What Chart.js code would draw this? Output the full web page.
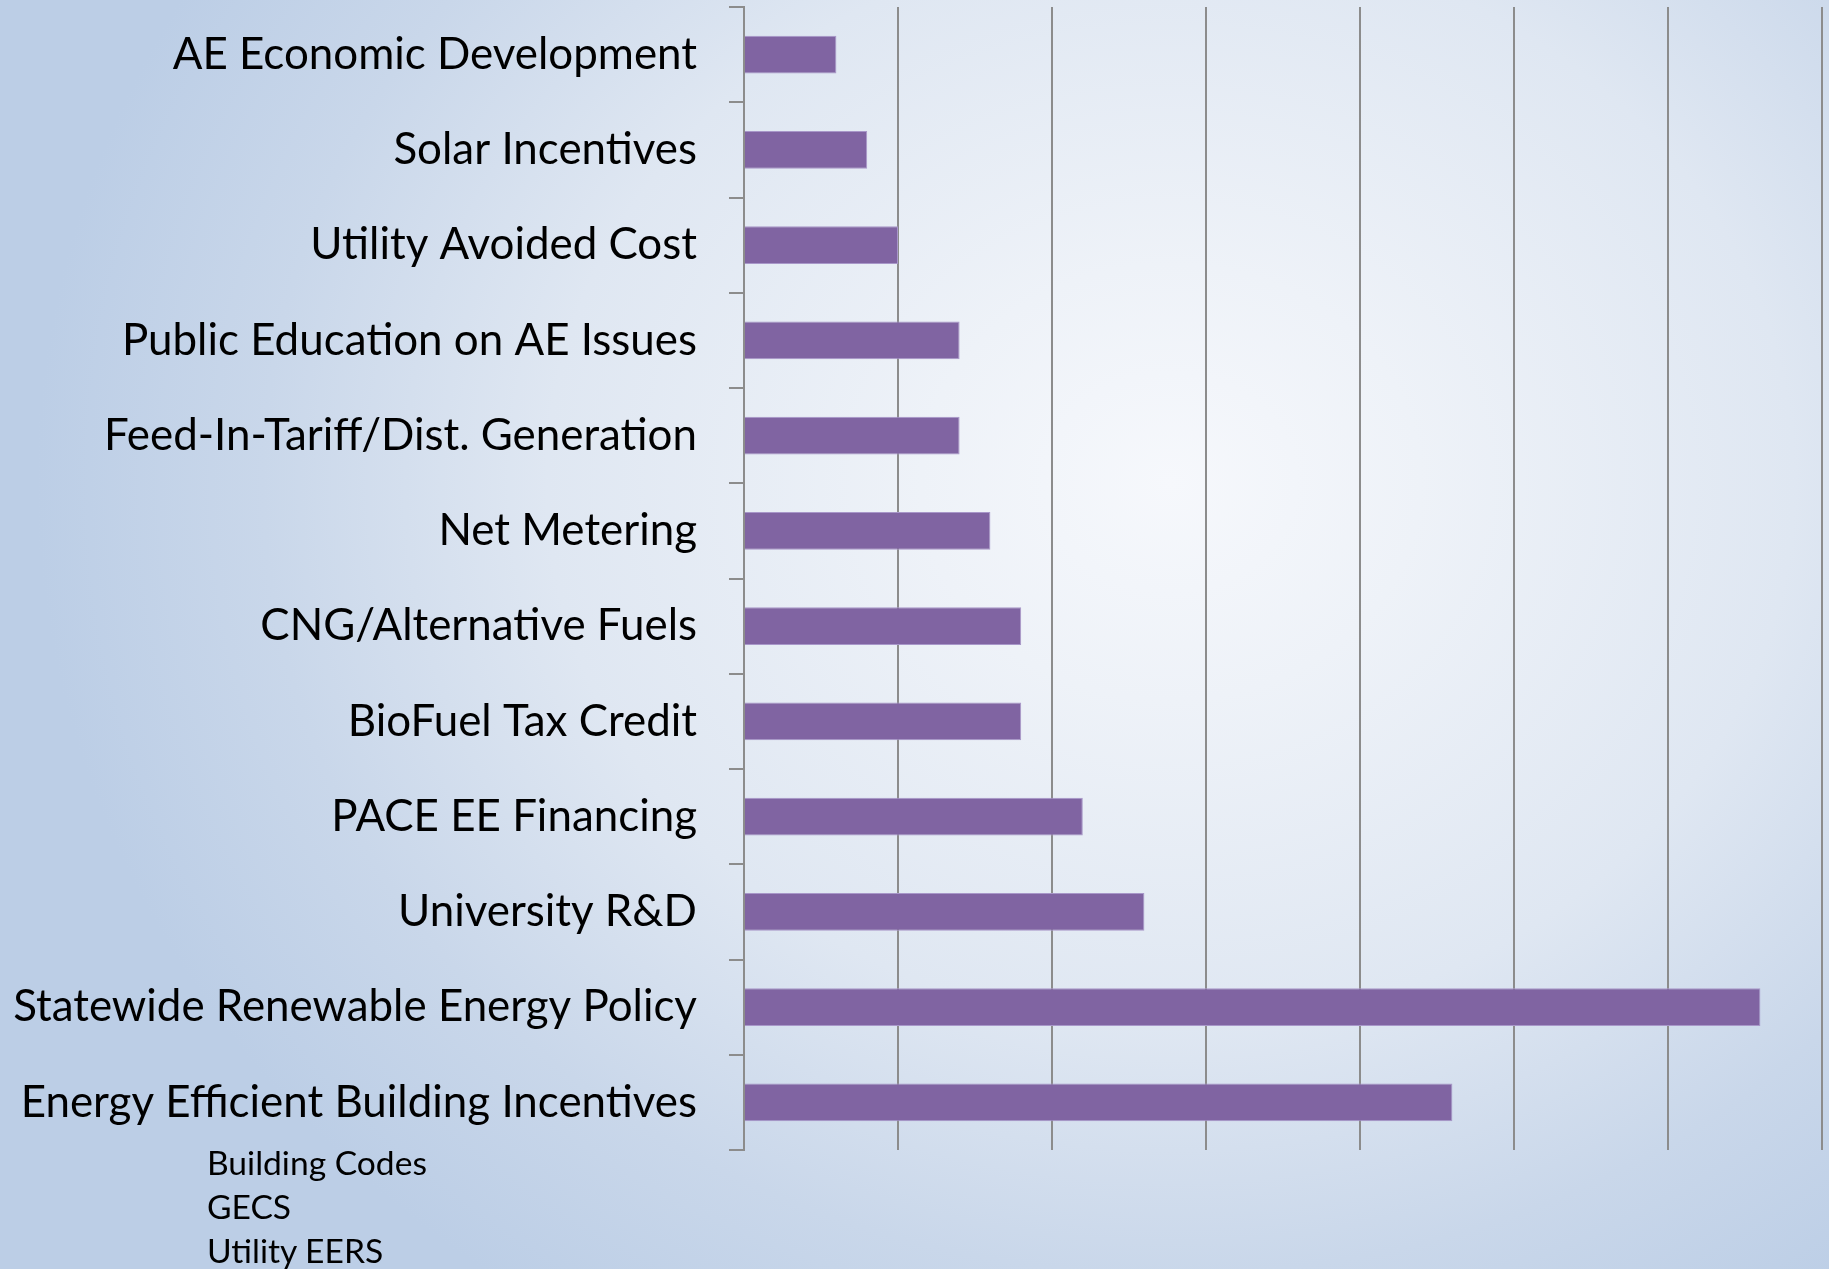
<!DOCTYPE html>
<html>
<head>
<meta charset="utf-8">
<script src="https://cdn.jsdelivr.net/npm/chart.js@4.4.1/dist/chart.umd.min.js"></script>
<style>
  html, body { margin: 0; padding: 0; }
  body {
    width: 1829px; height: 1269px; overflow: hidden; position: relative;
    background:
      radial-gradient(ellipse 62% 78% at 64% 38%, #f6f8fc 0%, #eef2f8 22%, #dfe7f2 55%, #c9d7ea 80%, #bccee6 100%);
  }
  #wrap { position: absolute; left: 0; top: 0; width: 1829px; height: 1269px; }
  #notes {
    position: absolute; left: 207px; top: 1140px;
    font-family: Lato, "Open Sans", sans-serif; color: #000; line-height: 44px;
    white-space: nowrap;
  }
</style>
</head>
<body>
<div id="wrap"><canvas id="c" width="1829" height="1269"></canvas></div>
<div id="notes"></div>
<script>
const categories = [
  'AE Economic Development',
  'Solar Incentives',
  'Utility Avoided Cost',
  'Public Education on AE Issues',
  'Feed-In-Tariff/Dist. Generation',
  'Net Metering',
  'CNG/Alternative Fuels',
  'BioFuel Tax Credit',
  'PACE EE Financing',
  'University R&D',
  'Statewide Renewable Energy Policy',
  'Energy Efficient Building Incentives'
];
const values = [3, 4, 5, 7, 7, 8, 9, 9, 11, 13, 33, 23];
const xMin = 0;
const xMax = 35;
const xStep = 5;
const notes = ['Building Codes', 'GECS', 'Utility EERS'];

const FONT = 'Lato';
const mctx = document.createElement('canvas').getContext('2d');
function fitSize(text, target) {
  mctx.font = '100px ' + FONT;
  return 100 * target / mctx.measureText(text).width;
}
const labelSize = fitSize('Statewide Renewable Energy Policy', 684);
const noteSize = fitSize('Building Codes', 220);

const notesEl = document.getElementById('notes');
notesEl.style.fontSize = noteSize.toFixed(2) + 'px';
notes.forEach(t => { const d = document.createElement('div'); d.textContent = t; notesEl.appendChild(d); });

const AXIS_X = 744;
const LEFT_PAD = 0;

new Chart(document.getElementById('c'), {
  type: 'bar',
  data: {
    labels: categories,
    datasets: [{
      data: values,
      backgroundColor: '#8064a2',
      borderColor: '#a897c9',
      borderWidth: 1,
      borderSkipped: 'start',
      categoryPercentage: 1.0,
      barPercentage: 0.394
    }]
  },
  options: {
    indexAxis: 'y',
    responsive: false,
    animation: false,
    layout: { padding: { left: LEFT_PAD, top: 7, right: 7, bottom: 119 } },
    plugins: { legend: { display: false }, tooltip: { enabled: false } },
    scales: {
      x: {
        min: xMin, max: xMax,
        ticks: { display: false, stepSize: xStep },
        grid: { color: '#8c8c8c', lineWidth: 2, drawTicks: false },
        border: { display: false },
        afterFit: s => { s.height = 0; s.paddingLeft = 0; s.paddingRight = 0; }
      },
      y: {
        ticks: { color: '#000', font: { family: FONT, size: labelSize }, padding: 32, autoSkip: false },
        grid: { drawOnChartArea: false, drawTicks: true, tickLength: 15, color: '#8c8c8c', lineWidth: 2, offset: true },
        border: { display: true, color: '#8c8c8c', width: 2 },
        afterFit: s => { s.width = AXIS_X - LEFT_PAD; s.paddingTop = 0; s.paddingBottom = 0; }
      }
    }
  }
});
</script>
</body>
</html>
